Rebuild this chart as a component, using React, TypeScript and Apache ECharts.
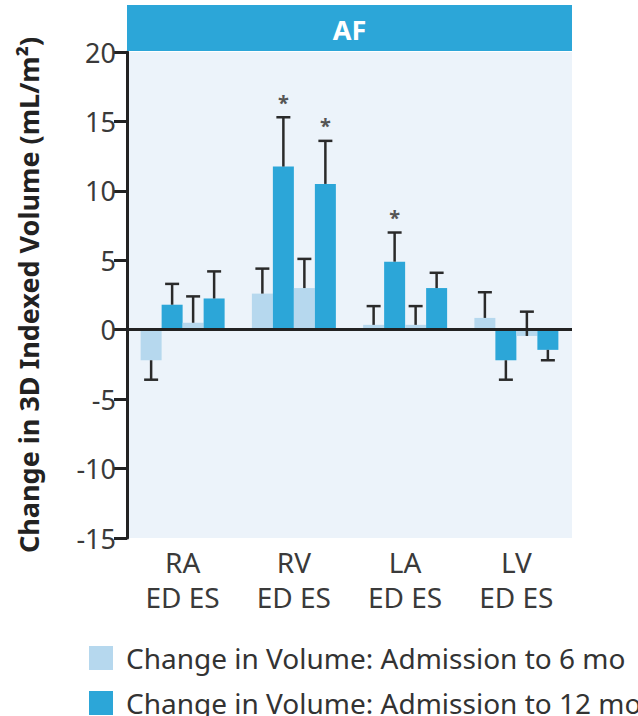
import React, { useEffect, useRef } from "react";
import * as echarts from "echarts";

// Chambers and phases
const categories = ["RA", "RV", "LA", "LV"];
const categoryLabels = ["RA\nED ES", "RV\nED ES", "LA\nED ES", "LV\nED ES"];

// Mean change in indexed volume (mL/m²)
const ed6 = [-2.2, 2.6, 0.35, 0.85];
const ed12 = [1.8, 11.75, 4.9, -2.2];
const es6 = [0.5, 3.0, 0.35, -0.45];
const es12 = [2.25, 10.5, 3.0, -1.45];

// End of the error whisker for each bar
const ed6Err = [-3.6, 4.4, 1.7, 2.7];
const ed12Err = [3.3, 15.3, 7.0, -3.6];
const es6Err = [2.4, 5.1, 1.7, 1.3];
const es12Err = [4.2, 13.6, 4.1, -2.2];

// Significance markers (*)
const ed12Sig = [false, true, true, false];
const es12Sig = [false, true, false, false];

const yTicks = { min: -15, max: 20, interval: 5 };

const NAME_6 = "Change in Volume: Admission to 6 mo";
const NAME_12 = "Change in Volume: Admission to 12 mo";
const LIGHT = "#b6d8ee";
const DARK = "#2ca6d8";
const FONT = "Noto Sans";
const BAR_W = 21;

export default function App() {
  const ref = useRef<HTMLDivElement>(null);

  useEffect(() => {
    document.body.style.margin = "0";
    if (!ref.current) return;
    const chart = echarts.init(ref.current, undefined, { renderer: "svg" });

    const groups = [
      { values: ed6, errs: ed6Err, sig: [false, false, false, false] },
      { values: ed12, errs: ed12Err, sig: ed12Sig },
      { values: es6, errs: es6Err, sig: [false, false, false, false] },
      { values: es12, errs: es12Err, sig: es12Sig },
    ];
    const whiskerData: number[][] = [];
    groups.forEach((g, k) => {
      g.values.forEach((v, i) => {
        whiskerData.push([i, v, g.errs[i], k, g.sig[i] ? 1 : 0]);
      });
    });

    const bar = (name: string, data: number[], color: string, extra: any = {}) => ({
      type: "bar",
      name,
      data,
      barWidth: BAR_W,
      barGap: "0%",
      itemStyle: { color },
      z: 2,
      ...extra,
    });

    const legendItem = (name: string, top: number) => ({
      orient: "vertical",
      left: 89,
      top,
      padding: 0,
      itemWidth: 24,
      itemHeight: 24,
      icon: "rect",
      data: [name],
      textStyle: {
        fontFamily: FONT,
        fontSize: 28,
        lineHeight: 24,
        color: "#333333",
        padding: [0, 0, 0, 8],
      },
    });

    chart.setOption({
      animation: false,
      textStyle: { fontFamily: FONT },
      grid: {
        left: 127,
        right: 66,
        top: 52,
        bottom: 178,
        show: true,
        backgroundColor: "#ecf3fa",
        borderWidth: 0,
      },
      graphic: [
        {
          type: "rect",
          shape: { x: 127, y: 5, width: 445, height: 46 },
          style: { fill: DARK },
          z: 10,
        },
        {
          type: "text",
          x: 349.5,
          y: 29,
          style: {
            text: "AF",
            fill: "#ffffff",
            font: `bold 27px "${FONT}"`,
            align: "center",
            verticalAlign: "middle",
          },
          z: 11,
        },
      ],
      legend: [legendItem(NAME_6, 644), legendItem(NAME_12, 689)],
      xAxis: {
        type: "category",
        data: categories,
        axisLine: { show: false },
        axisTick: { show: false },
        axisLabel: {
          formatter: (_v: string, i: number) => categoryLabels[i],
          fontFamily: FONT,
          fontSize: 28,
          lineHeight: 35,
          color: "#3a3a3a",
          margin: 6,
        },
      },
      yAxis: {
        type: "value",
        min: yTicks.min,
        max: yTicks.max,
        interval: yTicks.interval,
        name: "Change in 3D Indexed Volume (mL/m²)",
        nameLocation: "middle",
        nameRotate: 90,
        nameGap: 85,
        nameTextStyle: {
          fontFamily: FONT,
          fontWeight: "bold",
          fontSize: 27,
          color: "#222222",
        },
        axisLine: { show: true, lineStyle: { color: "#222222", width: 3 } },
        axisTick: { show: true, length: 13, lineStyle: { color: "#222222", width: 3 } },
        axisLabel: { fontFamily: FONT, fontSize: 27, color: "#3a3a3a", margin: 11 },
        splitLine: { show: false },
      },
      series: [
        bar(NAME_6, ed6, LIGHT),
        bar(NAME_12, ed12, DARK),
        bar(NAME_6, es6, LIGHT),
        bar(NAME_12, es12, DARK, {
          markLine: {
            silent: true,
            symbol: "none",
            label: { show: false },
            lineStyle: { color: "#222222", width: 3, type: "solid" },
            data: [{ yAxis: 0 }],
            z: 5,
          },
        }),
        {
          type: "custom",
          name: "whiskers",
          data: whiskerData,
          z: 4,
          encode: { x: 0, y: [1, 2] },
          renderItem: (_params: any, api: any) => {
            const i = api.value(0);
            const v = api.value(1);
            const e = api.value(2);
            const k = api.value(3);
            const sig = api.value(4);
            const off = (k - 1.5) * BAR_W;
            const p0 = api.coord([i, v]);
            const p1 = api.coord([i, e]);
            const x = p0[0] + off;
            const half = 7;
            const stroke = { stroke: "#2a2a2a", lineWidth: 2.5 };
            const children: any[] = [
              { type: "line", shape: { x1: x, y1: p0[1], x2: x, y2: p1[1] }, style: stroke },
              { type: "line", shape: { x1: x - half, y1: p1[1], x2: x + half, y2: p1[1] }, style: stroke },
            ];
            if (sig) {
              children.push({
                type: "text",
                x,
                y: p1[1] - 15,
                style: {
                  text: "*",
                  fill: "#555555",
                  font: `bold 20px "${FONT}"`,
                  align: "center",
                  verticalAlign: "middle",
                },
              });
            }
            return { type: "group", children };
          },
        },
      ],
    });

    return () => chart.dispose();
  }, []);

  return <div ref={ref} style={{ width: 638, height: 716 }} />;
}
